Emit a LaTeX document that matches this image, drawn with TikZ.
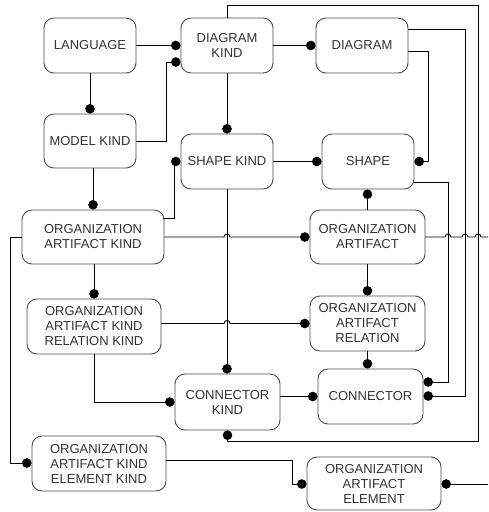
\documentclass[tikz,border=0pt]{standalone}
\usepackage{fontspec}
\setmainfont{Liberation Sans}
\usetikzlibrary{arrows.meta}
\begin{document}
\begin{tikzpicture}[x=1pt,y=-1pt,
  box/.style={draw=black!70,line width=0.9pt,rounded corners=10pt,fill=white,
    align=center,inner sep=0pt,text=black!80,
    font=\fontsize{13}{15}\selectfont},
  con/.style={draw=black,line width=0.9pt,-{Circle[length=9.5pt]}},
  ln/.style={draw=black,line width=0.9pt}]
\useasboundingbox (0,0) rectangle (488,512);
% nodes
\node[box,minimum width=92pt,minimum height=55pt] (lang) at (90,45.5) {LANGUAGE};
\node[box,minimum width=92pt,minimum height=55pt] (dk) at (227,45.5) {DIAGRAM\\KIND};
\node[box,minimum width=92pt,minimum height=55pt] (diag) at (362,45.5) {DIAGRAM};
\node[box,minimum width=92pt,minimum height=54pt] (mk) at (90,141) {MODEL KIND};
\node[box,minimum width=92pt,minimum height=55pt] (sk) at (227,161.5) {SHAPE KIND};
\node[box,minimum width=92pt,minimum height=55pt] (shape) at (368,161.5) {SHAPE};
\node[box,minimum width=142pt,minimum height=54pt] (oak) at (93,237) {ORGANIZATION\\ARTIFACT KIND};
\node[box,minimum width=115pt,minimum height=54pt] (oa) at (367.5,237) {ORGANIZATION\\ARTIFACT};
\node[box,minimum width=134pt,minimum height=55pt] (oakrk) at (94,326.5) {ORGANIZATION\\ARTIFACT KIND\\RELATION KIND};
\node[box,minimum width=115pt,minimum height=55pt] (oar) at (367.5,323.5) {ORGANIZATION\\ARTIFACT\\RELATION};
\node[box,minimum width=105pt,minimum height=56pt] (ck) at (227.5,402) {CONNECTOR\\KIND};
\node[box,minimum width=105pt,minimum height=55pt] (conn) at (370.5,396.5) {CONNECTOR};
\node[box,minimum width=134pt,minimum height=55pt] (oakek) at (99,463.5) {ORGANIZATION\\ARTIFACT KIND\\ELEMENT KIND};
\node[box,minimum width=134pt,minimum height=53pt] (oae) at (374,483.5) {ORGANIZATION\\ARTIFACT\\ELEMENT};
% coordinates
\coordinate (edgeA) at (488,237);
\coordinate (edgeB) at (488,484);
% connectors
\draw[con] (lang.east) -- (dk.west);
\draw[con] (mk.east) -- (166,141) |- (dk.west |- 0,62);
\draw[con] (lang.south) -- (mk.north);
\draw[con] (dk.east) -- (diag.west);
\draw[con] (dk.south) -- (sk.north);
\draw[con] (dk.north) -- (227,5) -- (478,5) -- (478,441) -- (227.5,441) -- (ck.south);
\draw[con] (diag.east |- 0,29) -- (465,29) |- (conn.east |- 0,396);
\draw[con] (diag.east |- 0,51) -- (428,51) |- (shape.east);
\draw[con] (shape.east |- 0,182) -- (448,182) |- (conn.east |- 0,382);
\draw[con] (sk.east) -- (shape.west);
\draw[con] (oa.north) -- (oa.north |- shape.south);
\draw[con] (oak.east |- 0,218) -- (174,218) |- (sk.west);
\draw[con] (oak.north |- mk.south) -- (oak.north);
\draw[con] (oak.east) -- (224,237) .. controls (224,233) and (230,233) .. (230,237) -- (oa.west);
\draw[ln] (oa.east) -- (445,237) .. controls (445,233) and (451,233) .. (451,237)
  -- (462,237) .. controls (462,233) and (468,233) .. (468,237)
  -- (475,237) .. controls (475,233) and (481,233) .. (481,237) -- (edgeA);
\draw[con] (oakrk.north |- oak.south) -- (oakrk.north);
\draw[con] (oakrk.east |- 0,323.5) -- (224,323.5) .. controls (224,319.5) and (230,319.5) .. (230,323.5) -- (oar.west);
\draw[con] (oa.south) -- (oar.north);
\draw[con] (oar.south) -- (oar.south |- conn.north);
\draw[con] (sk.south) -- (sk.south |- ck.north);
\draw[con] (oakrk.south) |- (ck.west);
\draw[con] (ck.east |- 0,396.5) -- (conn.west);
\draw[con] (oak.west) -- (10,237) |- (oakek.west |- 0,463);
\draw[con] (oakek.east |- 0,460) -- (292,460) |- (oae.west |- 0,484);
\draw[con] (edgeB) -- (oae.east |- 0,484);
\end{tikzpicture}
\end{document}
